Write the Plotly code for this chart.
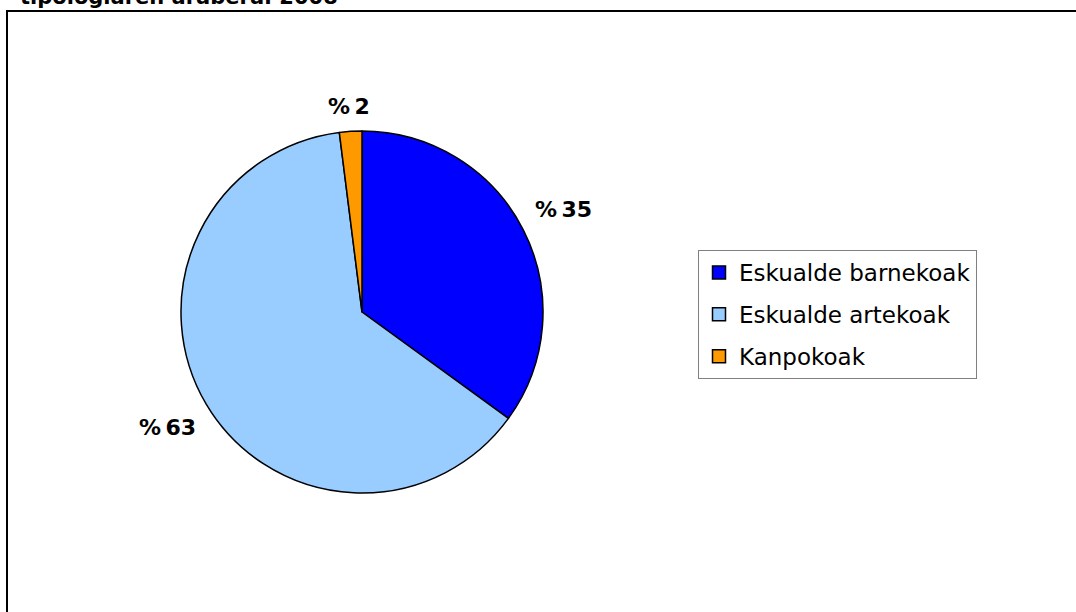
import math
import plotly.graph_objects as go

# Data
categories = ["Eskualde barnekoak", "Eskualde artekoak", "Kanpokoak"]
values = [35, 63, 2]
colors = ["#0000FF", "#99CCFF", "#FF9900"]
title_text = "tipologiaren arabera. 2008"

W, H = 1076, 612
labels_txt = [f"%\u2009{round(v)}" for v in values]

# pie geometry (pixels)
CX, CY, R = 362, 312, 181
LBL_FS = 22

fig = go.Figure()
fig.add_trace(go.Pie(
    labels=categories,
    values=values,
    textinfo="none",
    sort=False,
    direction="clockwise",
    rotation=0,
    marker=dict(colors=colors, line=dict(color="black", width=1.5)),
    domain=dict(x=[(CX - R) / W, (CX + R) / W], y=[1 - (CY + R) / H, 1 - (CY - R) / H]),
    hoverinfo="label+percent",
    showlegend=False,
))

# legend entries (one per category)
for i, (cat, col) in enumerate(zip(categories, colors)):
    fig.add_trace(go.Scatter(
        x=[None], y=[None], mode="markers", name=cat,
        legendgroup=f"g{i}",
        marker=dict(symbol="square", size=13, color=col, line=dict(color="black", width=1.5)),
    ))

# outside percentage labels, positioned from slice mid-angles
annotations = []
total = sum(values)
cum = 0
for v, t in zip(values, labels_txt):
    mid = (cum + v / 2) / total * 2 * math.pi
    cum += v
    sx, sy = math.sin(mid), math.cos(mid)
    w = 0.68 * LBL_FS * len(t)
    h = 0.75 * LBL_FS
    off = 0.5 * w * abs(sx) + 0.5 * h * abs(sy) + 15
    px = CX + (R + off) * sx
    py = CY - (R + off) * sy
    annotations.append(dict(
        text=t, xref="paper", yref="paper", x=px / W, y=1 - py / H,
        xanchor="center", yanchor="middle", showarrow=False,
        font=dict(family="Verdana, DejaVu Sans", size=LBL_FS, color="black", weight="bold"),
    ))

annotations.append(dict(
    text=title_text, xref="paper", yref="paper",
    x=18 / W, y=1 - 11 / H, xanchor="left", yanchor="bottom",
    showarrow=False,
    font=dict(family="Verdana, DejaVu Sans", size=21, color="black", weight="bold"),
))

fig.update_layout(
    width=W, height=H,
    margin=dict(l=0, r=0, t=0, b=0),
    paper_bgcolor="white",
    plot_bgcolor="white",
    font=dict(family="Verdana, DejaVu Sans", color="black"),
    xaxis=dict(visible=False),
    yaxis=dict(visible=False),
    showlegend=True,
    legend=dict(
        x=698 / W, y=1 - 250 / H, xanchor="left", yanchor="top",
        bordercolor="#808080", borderwidth=1,
        font=dict(family="Verdana, DejaVu Sans", size=23, color="black"),
        bgcolor="white", tracegroupgap=9, itemwidth=30,
    ),
    shapes=[dict(
        type="rect", xref="paper", yref="paper",
        x0=7 / W, x1=1.05, y0=-0.05, y1=1 - 11 / H,
        line=dict(color="black", width=2), fillcolor="rgba(0,0,0,0)",
    )],
    annotations=annotations,
)

fig.write_html(
    "out.html",
    config={"displayModeBar": False},
    post_script="document.body.style.margin='0';document.body.style.overflow='hidden';",
)
